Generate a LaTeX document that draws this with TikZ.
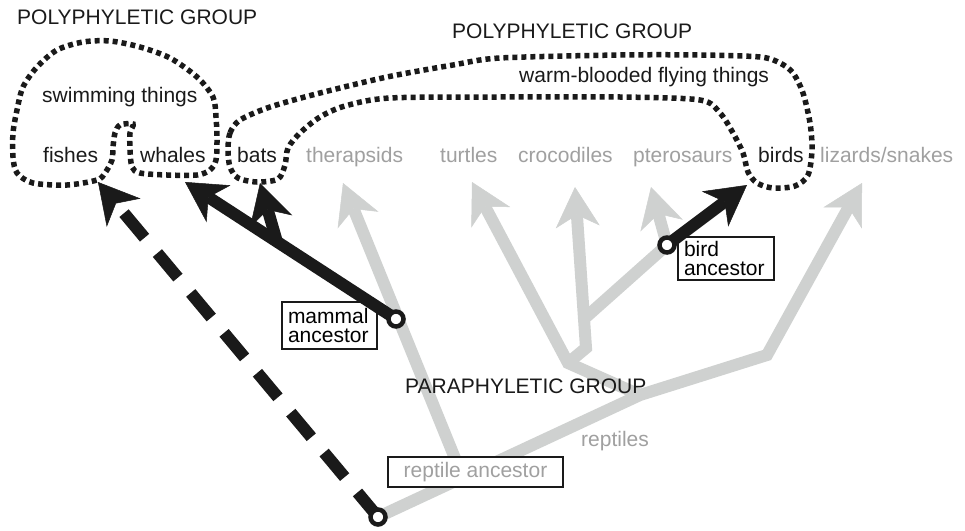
\documentclass[tikz,border=0pt]{standalone}
\usepackage{fontspec}
\setmainfont{Liberation Sans}
\usetikzlibrary{arrows.meta}
\definecolor{lgray}{HTML}{CFD1D0}
\definecolor{tgray}{HTML}{A0A0A0}
\definecolor{ink}{HTML}{1A1A1A}
\begin{document}
\begin{tikzpicture}[x=1pt,y=-1pt,
  every node/.style={font=\fontsize{21}{19}\selectfont},
  lbl/.style={anchor=base west, inner sep=0pt, text=ink},
  glbl/.style={anchor=base west, inner sep=0pt, text=tgray},
  tree/.style={line width=12pt, draw=lgray, line join=miter},
  blk/.style={line width=12pt, draw=ink},
  tip/.style={-{Stealth[length=40pt,width=44pt,inset=12pt,line width=0.5pt]}},
  dots/.style={line width=5.5pt, draw=ink, dash pattern=on 5pt off 4pt},
  anc/.style={circle, draw=ink, fill=white, line width=4.5pt, minimum size=15pt, inner sep=0pt},
  abox/.style={draw=ink, fill=white, line width=1.6pt, inner xsep=6pt, inner ysep=0pt, align=left},
]
\useasboundingbox (0,0) rectangle (965,530);
\fill[white] (0,0) rectangle (965,530);

% key points
\coordinate (rootc) at (378,517);
\coordinate (k1) at (640,395);
\coordinate (k2) at (767,355);
\coordinate (lzT) at (862,183);
\coordinate (th0) at (463,478);
\coordinate (thT) at (343,183);
\coordinate (mamc) at (396,319);
\coordinate (n1) at (568,363);
\coordinate (n2) at (586,348);
\coordinate (tuT) at (472,182);
\coordinate (crT) at (575,187);
\coordinate (p0) at (585,318);
\coordinate (birdc) at (667,245);
\coordinate (ptT) at (651,187);
\coordinate (whT) at (185,182);
\coordinate (w0) at (277,242);
\coordinate (baT) at (260,183);
\coordinate (biT) at (747,185);
\coordinate (fiT) at (98,182);

% gray reptile tree
\draw[tree,tip] (rootc) -- (k1) -- (k2) -- (lzT);
\draw[tree,tip] (th0) -- (thT);
\draw[tree,tip] (k1) -- (n1) -- (tuT);
\draw[tree,tip] (n1) -- (n2) -- (crT);
\draw[tree,tip] (p0) -- (birdc) -- (ptT);

% boxes
\node[abox, minimum width=175pt, minimum height=30pt, align=center, text=tgray] (rbox) at (475.5,472) {reptile ancestor};
\node[abox, minimum width=95pt, minimum height=47pt, text width=83pt] (mbox) at (329.5,325.5) {mammal\\ancestor};
\node[abox, minimum width=96pt, minimum height=43pt, text width=84pt] (bbox) at (726,258.5) {bird\\ancestor};

% black lineages
\draw[blk,tip] (mamc) -- (whT);
\draw[blk,tip] (w0) -- (baT);
\draw[blk,tip] (birdc) -- (biT);
\draw[blk,tip,dash pattern=on 32pt off 20pt] (rootc) -- (fiT);

% ancestor circles
\node[anc] (root) at (rootc) {};
\node[anc] (mam) at (mamc) {};
\node[anc] (bird) at (birdc) {};

% dotted groupings
\draw[dots] plot[smooth cycle] coordinates {
 (133,124) (120,125) (115,133) (113,147) (112,160) (105,173) (97,180)
 (67,185) (33,183) (17,173) (13,157) (13,133) (17,110) (23,87) (37,67)
 (57,50) (83,42) (110,41) (140,47) (170,58) (197,77) (213,97) (216,117)
 (217,140) (216,160) (210,170) (197,175) (167,175) (140,173) (132,167)
 (130,150) (130,133)};
\draw[dots] plot[smooth cycle] coordinates {
 (240,120) (230,133) (228,150) (230,167) (238,178) (257,182) (278,179)
 (285,165) (288,148) (300,133) (320,117) (345,106) (390,98) (500,97)
 (620,97) (700,100) (720,113) (733,133) (743,153) (748,172) (757,183)
 (773,188) (795,186) (808,175) (812,150) (810,123) (803,93) (793,73)
 (780,63) (760,57) (700,55) (620,55) (500,58) (453,65) (387,77)
 (320,93) (270,107)};

% labels
\node[lbl] (poly1) at (17,24) {POLYPHYLETIC GROUP};
\node[lbl] (poly2) at (452,38) {POLYPHYLETIC GROUP};
\node[lbl] (swim) at (42,102) {swimming things};
\node[lbl] (warm) at (519,82) {warm-blooded flying things};
\node[lbl] (fishes) at (43,162) {fishes};
\node[lbl] (whales) at (140,162) {whales};
\node[lbl] (bats) at (237,162) {bats};
\node[glbl] (therapsids) at (306,162) {therapsids};
\node[glbl] (turtles) at (440,162) {turtles};
\node[glbl] (crocodiles) at (518,162) {crocodiles};
\node[glbl] (pterosaurs) at (633,162) {pterosaurs};
\node[lbl] (birds) at (758,162) {birds};
\node[glbl] (lizards) at (820,162) {lizards/snakes};
\node[lbl] (para) at (405,393) {PARAPHYLETIC GROUP};
\node[glbl] (reptiles) at (581,446) {reptiles};
\end{tikzpicture}
\end{document}
